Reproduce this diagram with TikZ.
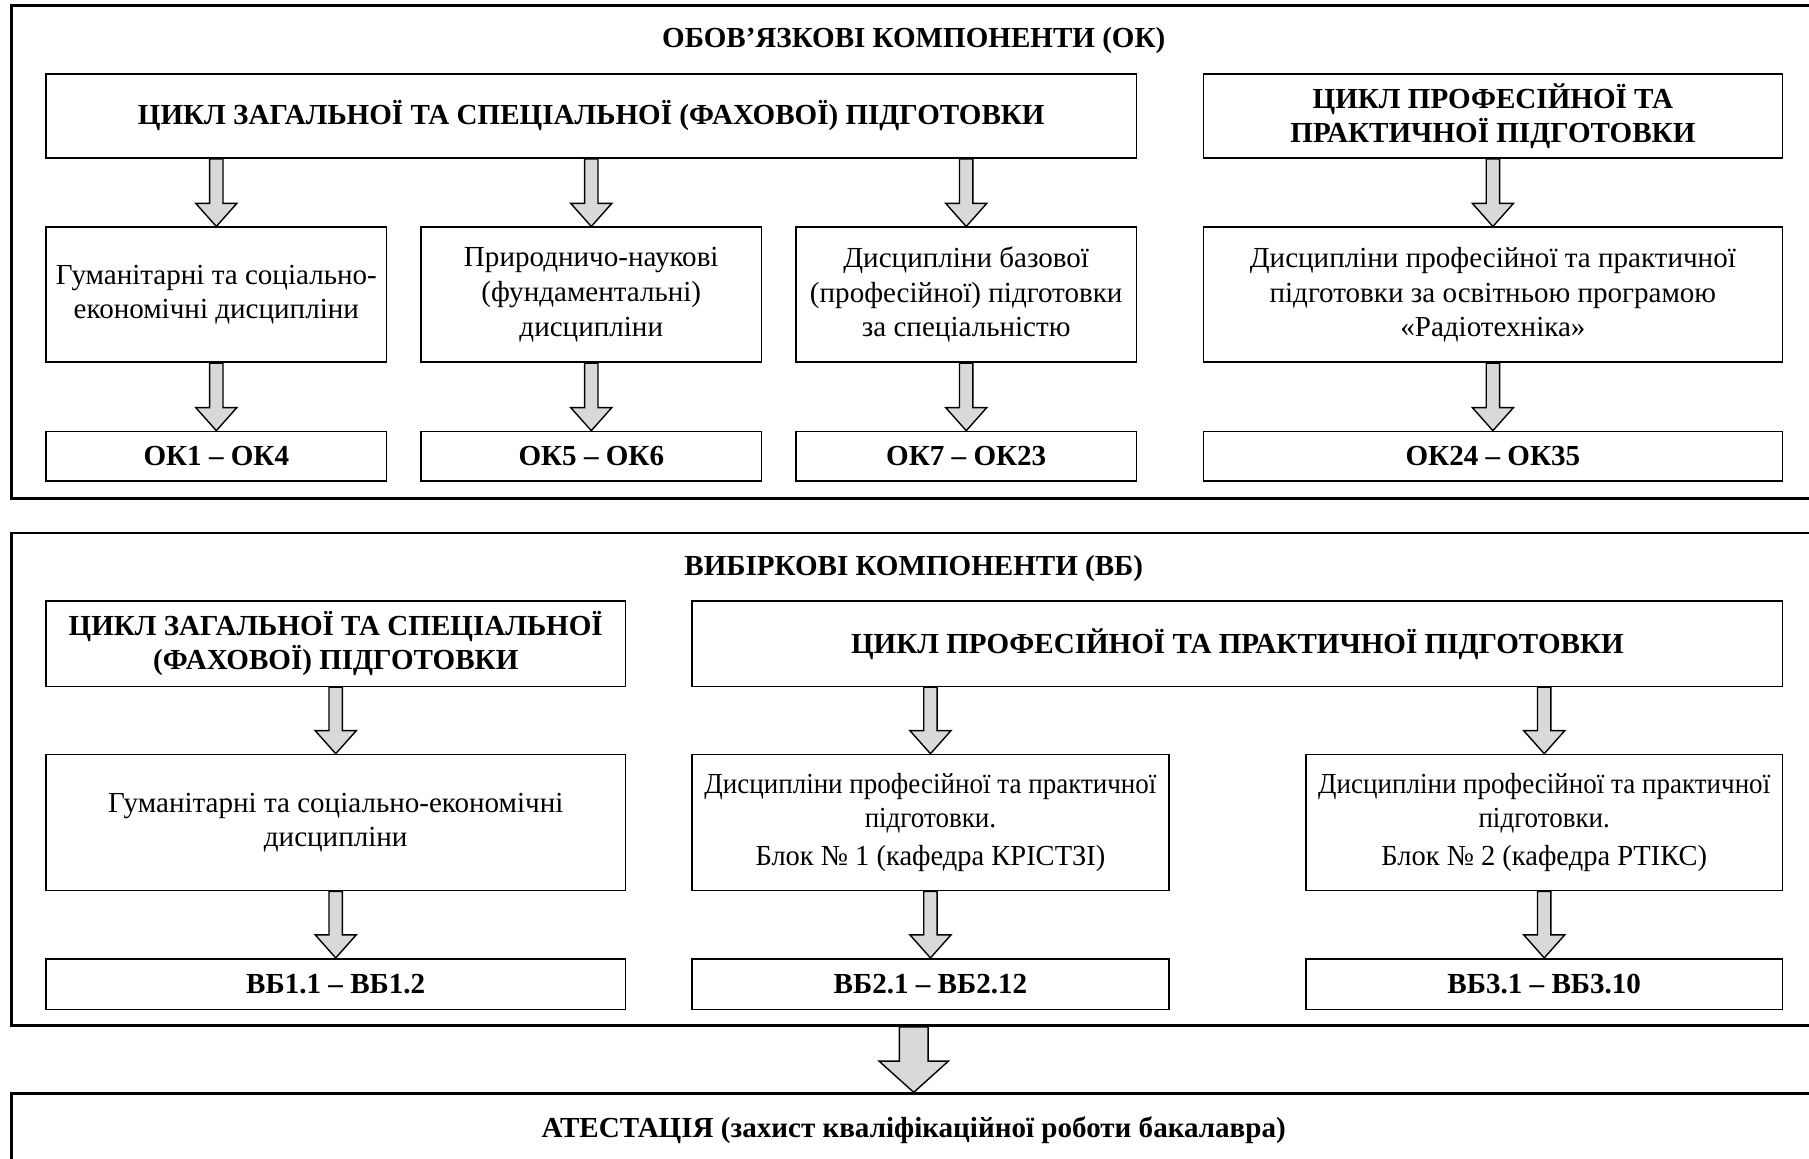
\documentclass[tikz,border=0pt]{standalone}
\usepackage{fontspec}
\setmainfont{Liberation Serif}
\newfontfamily\cond[FakeStretch=0.93]{Liberation Serif}
\newfontfamily\condb[FakeStretch=0.98]{Liberation Serif}
\usetikzlibrary{calc}
\newcommand{\blockarr}[5]{%
  \draw[barrow] ($(#2.north |- #1.south)+(-#3,0)$) -- ($(#2.north)+(-#3,#5)$) -- ($(#2.north)+(-#4,#5)$) -- (#2.north) -- ($(#2.north)+(#4,#5)$) -- ($(#2.north)+(#3,#5)$) -- ($(#2.north |- #1.south)+(#3,0)$) -- cycle;}
\begin{document}
\begin{tikzpicture}[x=0.5pt,y=0.5pt,
  sz/.style 2 args={minimum width=#1*0.5pt, minimum height=#2*0.5pt},
  box/.style={draw, line width=0.7pt, inner sep=0pt, align=center, font=\fontsize{12.6pt}{15pt}\selectfont},
  cbox/.style={draw, line width=0.7pt, inner sep=0pt, align=center, font=\fontsize{12.6pt}{15pt}\selectfont\cond},
  hbox/.style={draw, line width=0.7pt, inner sep=0pt, align=center, font=\fontsize{12.6pt}{14.6pt}\selectfont\bfseries},
  frame/.style={draw, line width=1.2pt, inner sep=0pt},
  title/.style={inner sep=0pt, font=\fontsize{12.6pt}{15pt}\selectfont\bfseries},
  barrow/.style={draw, line width=0.6pt, fill=gray!30, line join=miter},
]
\useasboundingbox (0,0) rectangle (1568,-1004);
\clip (0,0) rectangle (1568,-1004);

% ---------- OK frame ----------
\node[frame, sz={1564}{427}] (okf) at (792,-218.5) {};
\node[title] (okt) at (792,-35) {ОБОВ’ЯЗКОВІ КОМПОНЕНТИ (ОК)};

\node[hbox, sz={945}{73}] (A) at (512.5,-100.5) {ЦИКЛ ЗАГАЛЬНОЇ ТА СПЕЦІАЛЬНОЇ (ФАХОВОЇ) ПІДГОТОВКИ};
\node[hbox, sz={502}{73}] (B) at (1294,-100.5) {ЦИКЛ ПРОФЕСІЙНОЇ ТА\\ПРАКТИЧНОЇ ПІДГОТОВКИ};

\node[box, sz={295}{117}] (m1) at (187.5,-255.5) {Гуманітарні та соціально-\\економічні дисципліни};
\node[box, sz={295}{117}] (m2) at (512.5,-255.5) {Природничо-наукові\\(фундаментальні)\\дисципліни};
\node[box, sz={295}{117}] (m3) at (837.5,-255.5) {Дисципліни базової\\(професійної) підготовки\\за спеціальністю};
\node[box, sz={502}{117}] (m4) at (1294,-255.5) {Дисципліни професійної та практичної\\підготовки за освітньою програмою\\«Радіотехніка»};

\node[hbox, sz={295}{43}] (b1) at (187.5,-395.5) {ОК1 – ОК4};
\node[hbox, sz={295}{43}] (b2) at (512.5,-395.5) {ОК5 – ОК6};
\node[hbox, sz={295}{43}] (b3) at (837.5,-395.5) {ОК7 – ОК23};
\node[hbox, sz={502}{43}] (b4) at (1294,-395.5) {ОК24 – ОК35};

\blockarr{A}{m1}{5.8}{17.8}{20}
\blockarr{A}{m2}{5.8}{17.8}{20}
\blockarr{A}{m3}{5.8}{17.8}{20}
\blockarr{B}{m4}{5.8}{17.8}{20}
\blockarr{m1}{b1}{5.8}{17.8}{20}
\blockarr{m2}{b2}{5.8}{17.8}{20}
\blockarr{m3}{b3}{5.8}{17.8}{20}
\blockarr{m4}{b4}{5.8}{17.8}{20}

% ---------- VB frame ----------
\node[frame, sz={1564}{427}] (vbf) at (792,-675.5) {};
\node[title] (vbt) at (792,-493) {ВИБІРКОВІ КОМПОНЕНТИ (ВБ)};

\node[hbox, sz={502}{74}] (C) at (291,-558) {ЦИКЛ ЗАГАЛЬНОЇ ТА СПЕЦІАЛЬНОЇ\\(ФАХОВОЇ) ПІДГОТОВКИ};
\node[hbox, sz={945}{74}] (D) at (1072.5,-558) {ЦИКЛ ПРОФЕСІЙНОЇ ТА ПРАКТИЧНОЇ ПІДГОТОВКИ};

\node[box, sz={502}{118}] (c1) at (291,-713) {Гуманітарні та соціально-економічні\\дисципліни};
\node[cbox, sz={413}{118}] (d1) at (806.5,-713) {Дисципліни професійної та практичної\\підготовки.\\[1.5pt]{\condb Блок № 1 (кафедра КРІСТЗІ)}};
\node[cbox, sz={413}{118}] (d2) at (1338.5,-713) {Дисципліни професійної та практичної\\підготовки.\\[1.5pt]{\condb Блок № 2 (кафедра РТІКС)}};

\node[hbox, sz={502}{44}] (e1) at (291,-853) {ВБ1.1 – ВБ1.2};
\node[hbox, sz={413}{44}] (e2) at (806.5,-853) {ВБ2.1 – ВБ2.12};
\node[hbox, sz={413}{44}] (e3) at (1338.5,-853) {ВБ3.1 – ВБ3.10};

\blockarr{C}{c1}{5.8}{17.8}{20}
\blockarr{D}{d1}{5.8}{17.8}{20}
\blockarr{D}{d2}{5.8}{17.8}{20}
\blockarr{c1}{e1}{5.8}{17.8}{20}
\blockarr{d1}{e2}{5.8}{17.8}{20}
\blockarr{d2}{e3}{5.8}{17.8}{20}

% ---------- Attestation ----------
\node[frame, sz={1564}{80}] (atf) at (792,-988) {};
\node[title] (att) at (792,-980) {АТЕСТАЦІЯ (захист кваліфікаційної роботи бакалавра)};

\blockarr{vbf}{atf}{12.5}{30}{27}
\end{tikzpicture}
\end{document}
